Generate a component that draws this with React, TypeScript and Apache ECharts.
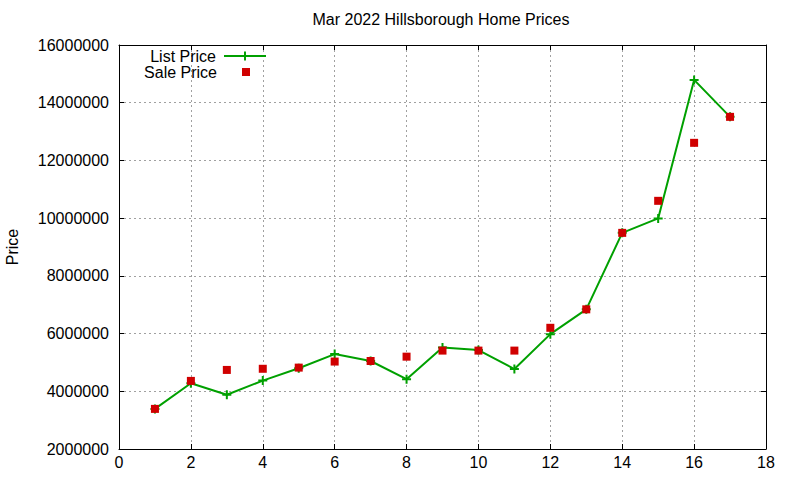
import { useEffect, useRef } from 'react';
import * as echarts from 'echarts';

const houses = [1, 2, 3, 4, 5, 6, 7, 8, 9, 10, 11, 12, 13, 14, 15, 16, 17];
const listPrice = [
    3390000, 4280000, 3880000, 4370000, 4800000, 5290000, 5050000, 4420000, 5520000,
    5430000, 4770000, 5980000, 6840000, 9490000, 9990000, 14790000, 13510000,
];
const salePrice = [
    3390000, 4360000, 4740000, 4780000, 4820000, 5030000, 5050000, 5200000, 5410000,
    5410000, 5410000, 6200000, 6840000, 9490000, 10600000, 12610000, 13510000,
];

const FONT = 'Liberation Sans, Arial, sans-serif';
const PLUS = 'path://M3.5,0h2v3.5h3.5v2h-3.5v3.5h-2v-3.5h-3.5v-2h3.5z';

const App = () => {
    const chartRef = useRef(null);

    useEffect(() => {
        const myChart = echarts.init(chartRef.current, null, { renderer: 'svg' });

        const gridLine = { show: true, lineStyle: { color: '#a0a0a0', type: [2, 3], width: 1 } };
        const frame = { show: true, onZero: false, lineStyle: { color: '#000', width: 1 } };
        const ticks = { show: true, inside: true, length: 5, lineStyle: { color: '#000' } };
        const legendText = { fontFamily: FONT, fontSize: 16, color: '#000' };

        myChart.setOption({
            animation: false,
            textStyle: { fontFamily: FONT },
            title: {
                text: 'Mar 2022 Hillsborough Home Prices',
                left: 441,
                textAlign: 'center',
                top: 11,
                padding: 0,
                textStyle: { fontFamily: FONT, fontSize: 16, fontWeight: 'normal', color: '#000' },
            },
            legend: [
                {
                    data: ['List Price'],
                    right: 533,
                    top: 48,
                    padding: 0,
                    align: 'right',
                    itemWidth: 42,
                    itemHeight: 11,
                    textStyle: { ...legendText, padding: [0, 3, 0, 0] },
                },
                {
                    data: ['Sale Price'],
                    right: 550,
                    top: 64,
                    padding: 0,
                    align: 'right',
                    itemWidth: 8,
                    itemHeight: 8,
                    textStyle: { ...legendText, padding: [0, 20, 0, 0] },
                },
            ],
            grid: { left: 119, right: 34, top: 45, bottom: 31, outerBoundsMode: 'none' },
            xAxis: [
                {
                    type: 'value',
                    min: 0,
                    max: 18,
                    interval: 2,
                    axisLine: frame,
                    axisTick: ticks,
                    splitLine: gridLine,
                    axisLabel: { fontFamily: FONT, fontSize: 16, color: '#000', margin: 5 },
                },
                {
                    type: 'value',
                    position: 'top',
                    min: 0,
                    max: 18,
                    interval: 2,
                    axisLine: frame,
                    axisTick: ticks,
                    splitLine: { show: false },
                    axisLabel: { show: false },
                },
            ],
            yAxis: [
                {
                    type: 'value',
                    min: 2000000,
                    max: 16000000,
                    interval: 2000000,
                    name: 'Price',
                    nameLocation: 'middle',
                    nameGap: 99,
                    nameTextStyle: { fontFamily: FONT, fontSize: 16, color: '#000' },
                    axisLine: frame,
                    axisTick: ticks,
                    splitLine: gridLine,
                    axisLabel: {
                        fontFamily: FONT,
                        fontSize: 16,
                        color: '#000',
                        margin: 10,
                        formatter: (v: number) => String(v),
                    },
                },
                {
                    type: 'value',
                    position: 'right',
                    min: 2000000,
                    max: 16000000,
                    interval: 2000000,
                    axisLine: frame,
                    axisTick: ticks,
                    splitLine: { show: false },
                    axisLabel: { show: false },
                },
            ],
            series: [
                {
                    name: 'List Price',
                    type: 'line',
                    data: houses.map((h, i) => [h, listPrice[i]]),
                    symbol: PLUS,
                    symbolSize: 9,
                    showAllSymbol: true,
                    itemStyle: { color: '#00a000' },
                    lineStyle: { color: '#00a000', width: 2 },
                },
                {
                    name: 'Sale Price',
                    type: 'scatter',
                    z: 3,
                    data: houses.map((h, i) => [h, salePrice[i]]),
                    symbol: 'rect',
                    symbolSize: 8,
                    itemStyle: { color: '#d00000', opacity: 1 },
                },
            ],
        });

        return () => {
            myChart.dispose();
        };
    }, []);

    return (
        <div
            ref={chartRef}
            style={{ position: 'absolute', left: 0, top: 0, width: '800px', height: '480px' }}
        />
    );
};

export default App;
